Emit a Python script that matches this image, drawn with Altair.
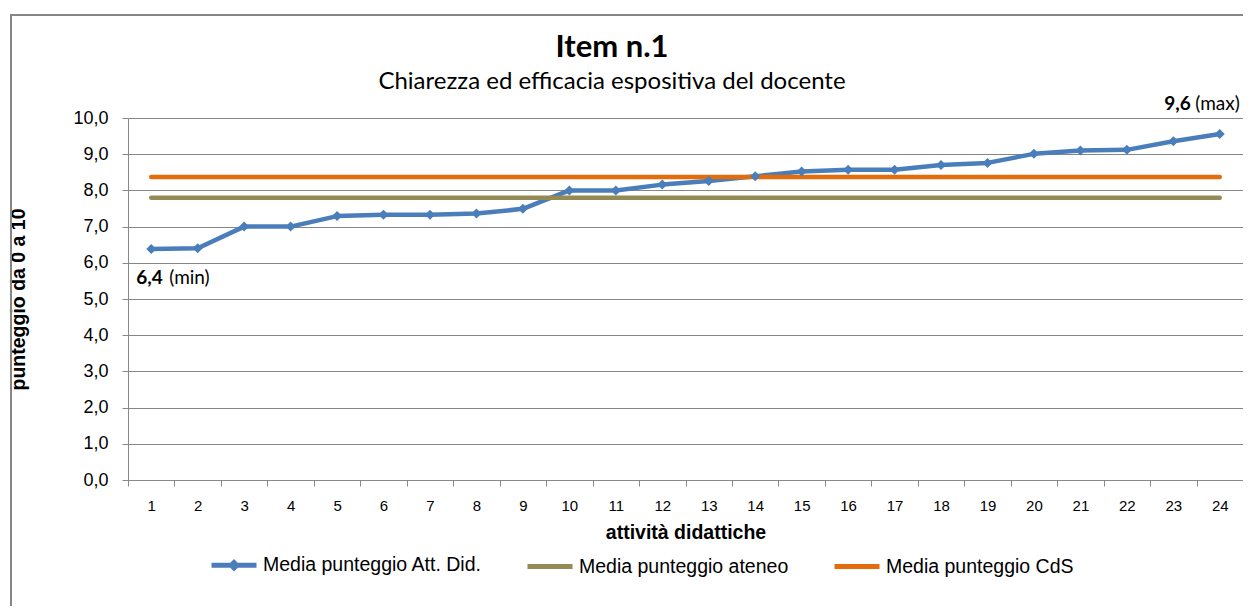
import altair as alt
import pandas as pd

# ---- data ----
categories = list(range(1, 25))
media_att_did = [6.38, 6.40, 7.00, 7.00, 7.29, 7.33, 7.33, 7.36, 7.49, 8.00, 8.00, 8.16,
                 8.26, 8.39, 8.52, 8.57, 8.57, 8.70, 8.76, 9.01, 9.10, 9.12, 9.36, 9.56]
media_ateneo = 7.80
media_cds = 8.37
series_names = ["Media punteggio Att. Did.", "Media punteggio ateneo", "Media punteggio CdS"]
series_colors = ["#4A7EBB", "#948A54", "#E46C0A"]
y_ticks = list(range(0, 11))
title_text = "Item n.1"
subtitle_text = "Chiarezza ed efficacia espositiva del docente"

FONT = "Lato"
GRAY = "#868686"
# legend symbols: line with a diamond marker, plain lines
LINE_DIAMOND = "M-1,0L1,0M-0.12,0L0,-0.12L0.12,0L0,0.12Z"
legend_shapes = [LINE_DIAMOND, "stroke", "stroke"]

rows = []
for c, v in zip(categories, media_att_did):
    rows.append({"cat": c, "val": v, "series": series_names[0]})
for c in categories:
    rows.append({"cat": c, "val": media_ateneo, "series": series_names[1]})
for c in categories:
    rows.append({"cat": c, "val": media_cds, "series": series_names[2]})
df = pd.DataFrame(rows)
df_att = df[df.series == series_names[0]]

i_min = media_att_did.index(min(media_att_did))
i_max = media_att_did.index(max(media_att_did))
fmt = lambda v: f"{v:.1f}".replace(".", ",")
df_min = pd.DataFrame({"cat": [categories[i_min]], "val": [media_att_did[i_min]],
                       "num": [fmt(media_att_did[i_min])], "tag": ["(min)"]})
df_max = pd.DataFrame({"cat": [categories[i_max]], "val": [media_att_did[i_max]],
                       "num": [fmt(media_att_did[i_max])], "tag": ["(max)"]})
one = pd.DataFrame({"a": [0]})

W, H = 1115, 362

x_enc = alt.X("cat:O", title="attività didattiche",
              axis=alt.Axis(labelAngle=0, tickBand="extent", labelFontSize=15,
                            titleFontSize=19.5, titleFontWeight="bold", labelPadding=12,
                            tickSize=6, titlePadding=10, grid=False))
y_enc = alt.Y("val:Q", title="punteggio da 0 a 10",
              scale=alt.Scale(domain=[0, 10], nice=False),
              axis=alt.Axis(values=y_ticks, tickCount=len(y_ticks),
                            labelExpr="replace(format(datum.value, '.1f'), '.', ',')",
                            labelFontSize=18, titleFontSize=19.5, titleFontWeight="bold",
                            labelPadding=14, tickSize=6, titlePadding=44, grid=True,
                            gridColor=GRAY, gridWidth=1.2, gridOpacity=1))
color_scale = alt.Scale(domain=series_names, range=series_colors)

frame = alt.Chart(one).mark_rect(
    fill="transparent", stroke=GRAY, strokeWidth=2
).encode(x=alt.value(-117), x2=alt.value(W + 200), y=alt.value(-103), y2=alt.value(H + 300))

title_m = alt.Chart(one).mark_text(text=title_text, font=FONT, fontSize=31, fontWeight="bold",
                                   color="black", align="center", baseline="middle"
                                   ).encode(x=alt.value(484), y=alt.value(-70))
subtitle_m = alt.Chart(one).mark_text(text=subtitle_text, font=FONT, fontSize=24,
                                      color="black", align="center", baseline="middle"
                                      ).encode(x=alt.value(484), y=alt.value(-36))

lines = alt.Chart(df).mark_line(strokeWidth=4.5, strokeCap="round", strokeJoin="round").encode(
    x=x_enc, y=y_enc,
    color=alt.Color("series:N", sort=series_names, scale=color_scale, legend=None),
)

# invisible layer that only supplies the legend (line + marker symbols)
legend_layer = alt.Chart(df).mark_point(filled=False, opacity=0).encode(
    x=x_enc, y=y_enc,
    color=alt.Color("series:N", sort=series_names, scale=color_scale,
                    legend=alt.Legend(title=None, orient="none", legendX=81, legendY=422,
                                      direction="horizontal", symbolSize=2025,
                                      symbolStrokeWidth=5, symbolOpacity=1,
                                      labelFontSize=19.5, labelOffset=4, columnPadding=35,
                                      labelLimit=0)),
    shape=alt.Shape("series:N", sort=series_names,
                    scale=alt.Scale(domain=series_names, range=legend_shapes)),
)

points = alt.Chart(df_att).mark_point(shape="diamond", filled=True, size=100, opacity=1,
                                      color=series_colors[0]).encode(x=x_enc, y=y_enc)

def ann(d, field, align, dx, dy, bold):
    return alt.Chart(d).mark_text(align=align, baseline="middle", dx=dx, dy=dy,
                                  fontSize=19, fontWeight="bold" if bold else "normal",
                                  font=FONT, color="black").encode(x=x_enc, y=y_enc,
                                                                    text=f"{field}:N")

min_num = ann(df_min, "num", "left", -15, 29, True)
min_tag = ann(df_min, "tag", "left", 18, 29, False)
max_num = ann(df_max, "num", "right", -29, -30, True)
max_tag = ann(df_max, "tag", "right", 20, -30, False)

chart = alt.layer(frame, title_m, subtitle_m, legend_layer, lines, points, min_num, min_tag,
                  max_num, max_tag).properties(
    width=W, height=H,
    autosize=alt.AutoSizeParams(type="none"),
    padding={"left": 120, "top": 110, "right": 0, "bottom": 126},
).configure_view(stroke=None).configure_axis(
    labelFont=FONT, titleFont=FONT, labelColor="black", titleColor="black",
    domainColor=GRAY, tickColor=GRAY, gridColor=GRAY,
    domainWidth=1.5, tickWidth=1.5,
).configure_legend(labelFont=FONT, labelColor="black").configure(background="white")

chart.save("out.html", embed_options={"renderer": "svg", "actions": False})
